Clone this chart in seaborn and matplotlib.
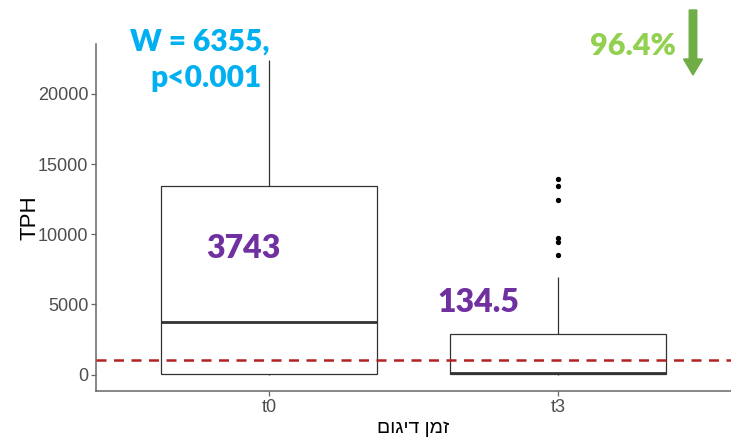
import matplotlib
matplotlib.use("Agg")
import matplotlib.pyplot as plt
import seaborn as sns
import pandas as pd

# ---- data ----
groups = ["t0", "t3"]
# sample values whose box statistics reproduce the drawn boxes
t0_values = [0, 50, 3743, 13435, 22450]
t3_values = [0, 0, 0, 5, 5, 10, 15, 20, 30, 45, 60, 80, 100, 120, 134.5,
             300, 600, 1000, 1500, 2000, 2500, 2900, 6950,
             8520, 9470, 9750, 12440, 13440, 13940]
threshold = 1000
median_labels = ["3743", "134.5"]
x_label = "זמן דיגום"
y_label = "TPH"
y_ticks = [0, 5000, 10000, 15000, 20000]
stat_text = ["W = 6355,", "p<0.001"]
change_text = "96.4%"

df = pd.DataFrame({
    "group": [groups[0]] * len(t0_values) + [groups[1]] * len(t3_values),
    "value": t0_values + t3_values,
})

sns.set_theme(style="white")
plt.rcParams["font.family"] = ["Liberation Sans", "DejaVu Sans"]

W, H = 731, 437
fig = plt.figure(figsize=(W / 100, H / 100), dpi=100)
ax = fig.add_axes([96 / W, 1 - 391 / H, (W - 96) / W, (391 - 44) / H])

sns.boxplot(data=df, x="group", y="value", order=groups, ax=ax,
            color="white", linecolor="#333333", linewidth=0.9, width=0.75,
            showcaps=False,
            medianprops=dict(color="#333333", linewidth=2.0),
            flierprops=dict(marker="o", markerfacecolor="black",
                            markeredgecolor="black", markersize=2.8))

ax.axhline(threshold, color="#B22222", linestyle=(0, (4, 3)), linewidth=1.8,
           zorder=5)

ax.set_xlim(-0.6, 1.6)
ax.set_ylim(-1176, 23556)
ax.set_yticks(y_ticks)
ax.set_yticklabels([str(v) for v in y_ticks])

for s in ["top", "right"]:
    ax.spines[s].set_visible(False)
for s in ["left", "bottom"]:
    ax.spines[s].set_color("#666666")
    ax.spines[s].set_linewidth(1.1)

ax.tick_params(axis="both", which="both", direction="out", length=3.5,
               width=0.9, color="#666666", labelcolor="#4D4D4D",
               labelsize=13, left=True, bottom=True, pad=2)

ax.set_xlabel(x_label[::-1], fontsize=14, color="black", labelpad=3)
ax.set_ylabel(y_label, fontsize=16, color="black", labelpad=-2)

def ftext(px, py, s, **kw):
    fig.text(px / W, 1 - py / H, s, ha="center", va="center", **kw)

bold = dict(family=["Lato", "DejaVu Sans"], fontweight="heavy")
ftext(243, 248, median_labels[0], fontsize=23, color="#7030A0", **bold)
ftext(478, 303, median_labels[1], fontsize=23, color="#7030A0", **bold)
ftext(200, 42, stat_text[0], fontsize=21.5, color="#00B0F0", **bold)
ftext(206, 78, stat_text[1], fontsize=21.5, color="#00B0F0", **bold)
ftext(633, 46, change_text, fontsize=22, color="#92D050", **bold)

fig.patches.append(matplotlib.patches.FancyArrow(
    693 / W, 1 - 10 / H, 0, -(65 / H), width=4.5 / H,
    head_width=19 / W, head_length=16 / H, length_includes_head=True,
    transform=fig.transFigure, color="#70AD47", figure=fig))

fig.savefig("out.png", dpi=100)
